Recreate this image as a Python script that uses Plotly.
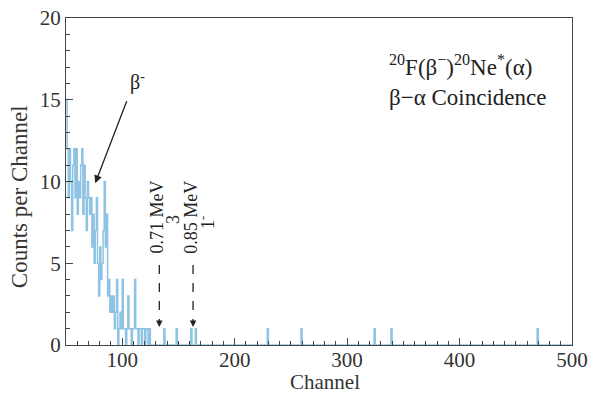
import plotly.graph_objects as go

# Dense part of the spectrum (channels 50..124)
dense_channels = list(range(50, 125))
dense_counts = [15, 12, 9, 12, 10, 7, 11, 12, 9, 12,
                8, 10, 9, 11, 12, 8, 11, 9, 7, 10,
                9, 8, 9, 6, 8, 5, 7, 9, 5, 3,
                6, 4, 5, 7, 10, 6, 8, 3, 4, 2,
                3, 2, 3, 1, 2, 4, 0, 1, 2, 1,
                4, 1, 1, 0, 1, 3, 1, 1, 0, 1,
                1, 4, 1, 1, 0, 1, 1, 0, 1, 1,
                0, 1, 1, 0, 1]
# Isolated single counts at higher channels
isolated_channels = [137, 148, 161, 165, 229, 259, 324, 339, 469]
isolated_counts = [1, 1, 1, 1, 1, 1, 1, 1, 1]

x_range = [50, 500]
y_range = [0, 20]

# assemble full per-channel spectrum
counts = {c: v for c, v in zip(dense_channels, dense_counts)}
for c, v in zip(isolated_channels, isolated_counts):
    counts[c] = v
channels = list(range(x_range[0], x_range[1] + 1))
values = [counts.get(c, 0) for c in channels]

FONT = "Liberation Serif"
BLUE = "#8fc3e3"
INK = "#222"

fig = go.Figure()
fig.add_trace(go.Scatter(x=channels, y=values, mode="lines",
                         line=dict(color=BLUE, width=1.5, shape="hv"),
                         hoverinfo="skip", showlegend=False))

# dashed arrows for the states
for ch in [133, 163]:
    fig.add_shape(type="line", x0=ch, x1=ch, y0=4.9, y1=1.5, xref="x", yref="y",
                  line=dict(color=INK, width=1.3, dash="dash"))
    fig.add_annotation(x=ch, y=1.1, ax=ch, ay=1.6, xref="x", yref="y", axref="x", ayref="y",
                       showarrow=True, arrowhead=2, arrowsize=1, arrowwidth=1.3,
                       arrowcolor=INK, text="")

annots = [
    dict(x=131, y=7.8, text="0.71 MeV"),
    dict(x=145, y=7.7, text="3"),
    dict(x=161.5, y=7.8, text="0.85 MeV"),
    dict(x=175, y=7.5, text="1<sup>-</sup>"),
]
for a in annots:
    fig.add_annotation(x=a["x"], y=a["y"], text=a["text"], textangle=-90, showarrow=False,
                       xref="x", yref="y", font=dict(family=FONT, size=18, color=INK))

# beta arrow
fig.add_annotation(x=76, y=9.9, ax=104.5, ay=15.0, xref="x", yref="y", axref="x", ayref="y",
                   showarrow=True, arrowhead=2, arrowsize=1.2, arrowwidth=1.3, arrowcolor=INK,
                   text="")
fig.add_annotation(x=114, y=16.1, text="β<sup>-</sup>", showarrow=False, xref="x", yref="y",
                   font=dict(family=FONT, size=20, color=INK))

fig.add_annotation(x=0.635, y=0.905, xref="paper", yref="paper", xanchor="left", yanchor="top",
                   align="left", showarrow=False,
                   text="<sup>20</sup>F(β<sup>−</sup>)<sup>20</sup>Ne<sup>*</sup>(α)<br>β−α Coincidence",
                   font=dict(family=FONT, size=23, color=INK))

# axis titles (placed as in the original)
fig.add_annotation(x=-0.093, y=0.455, xref="paper", yref="paper", textangle=-90,
                   xanchor="center", yanchor="middle",
                   showarrow=False, text="Counts per Channel",
                   font=dict(family=FONT, size=23, color="#333"))
fig.add_annotation(x=0.512, y=-0.1525, xref="paper", yref="paper",
                   xanchor="center", yanchor="bottom", borderpad=0,
                   showarrow=False, text="Channel",
                   font=dict(family=FONT, size=21, color="#333"))

axis_common = dict(showline=True, linecolor="#444", linewidth=1.3, mirror=True,
                   ticks="inside", tickcolor="#444", showgrid=False, zeroline=False,
                   automargin=False,
                   tickfont=dict(family=FONT, size=21, color="#333"))

fig.update_xaxes(range=x_range, tick0=0, dtick=100, ticklen=7, ticklabelstandoff=-4,
                 minor=dict(dtick=10, ticks="inside", ticklen=4, tickcolor="#444", showgrid=False),
                 **axis_common)
fig.update_yaxes(range=y_range, tick0=0, dtick=5, ticklen=7,
                 minor=dict(dtick=1, ticks="inside", ticklen=4, tickcolor="#444", showgrid=False),
                 **axis_common)

fig.update_layout(width=592, height=395, margin=dict(l=66, r=20, t=18, b=50),
                  plot_bgcolor="white", paper_bgcolor="white")

fig.write_html("out.html", config={"displayModeBar": False},
               post_script="document.body.style.margin='0';document.body.style.overflow='hidden';")
